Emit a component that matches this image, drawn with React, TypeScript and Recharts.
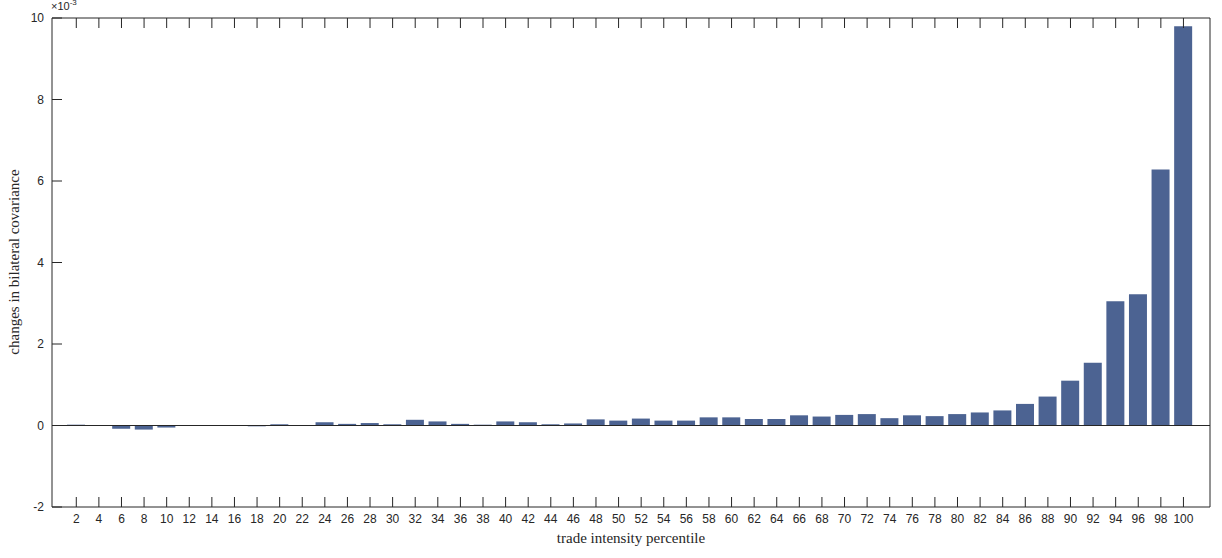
import React from 'react';
import { BarChart, Bar, XAxis, YAxis, ReferenceLine } from 'recharts';

const percentiles = Array.from({ length: 50 }, (_, i) => (i + 1) * 2);
const values = [0.02, 0.0, -0.08, -0.1, -0.05, 0, -0.005, 0, -0.02, 0.03, 0, 0.08, 0.04, 0.06, 0.03, 0.14, 0.1, 0.04, 0.02, 0.1, 0.08, 0.03, 0.05, 0.15, 0.12, 0.17, 0.12, 0.12, 0.2, 0.2, 0.16, 0.16, 0.25, 0.22, 0.26, 0.28, 0.18, 0.25, 0.23, 0.28, 0.32, 0.37, 0.53, 0.71, 1.1, 1.54, 3.05, 3.22, 6.28, 9.8];
const yTicks = [-2, 0, 2, 4, 6, 8, 10];
const data = percentiles.map((p, i) => ({ p, v: values[i] }));

const font = 'Helvetica, Arial, "Liberation Sans", sans-serif';

const BottomTick = (props: any) => {
  const { x, y, payload } = props;
  return (
    <g>
      <line x1={x} x2={x} y1={y} y2={y - 10} stroke="#262626" />
      <text x={x} y={y + 16} textAnchor="middle" fontSize={12} fontFamily={font} fill="#262626">{payload.value}</text>
    </g>
  );
};
const TopTick = (props: any) => {
  const { x, y } = props;
  return <line x1={x} x2={x} y1={y} y2={y + 10} stroke="#262626" />;
};
const LeftTick = (props: any) => {
  const { x, y, payload } = props;
  return (
    <g>
      <line x1={x} x2={x + 10} y1={y} y2={y} stroke="#262626" />
      <text x={x - 8} y={y + 4} textAnchor="end" fontSize={12} fontFamily={font} fill="#262626">{payload.value}</text>
    </g>
  );
};
const RightTick = (props: any) => {
  const { x, y } = props;
  return <line x1={x} x2={x - 10} y1={y} y2={y} stroke="#262626" />;
};

export default function App() {
  return (
    <div style={{ position: 'absolute', left: 0, top: 0, width: 1222, height: 558, background: '#fff' }}>
      <BarChart width={1222} height={558} data={data} margin={{ top: 17, right: 11, bottom: 0, left: 51 }}>
        <XAxis xAxisId="b" dataKey="p" type="number" domain={[-0.15, 102.35]} ticks={percentiles} interval={0}
          tick={<BottomTick />} tickLine={false} tickSize={0} tickMargin={0} stroke="#262626" height={51} orientation="bottom" allowDataOverflow />
        <XAxis xAxisId="t" dataKey="p" type="number" domain={[-0.15, 102.35]} ticks={percentiles} interval={0}
          tick={<TopTick />} tickLine={false} tickSize={0} tickMargin={0} stroke="#262626" height={1} orientation="top" allowDataOverflow />
        <YAxis yAxisId="l" domain={[-2, 10]} ticks={yTicks} tick={<LeftTick />} tickLine={false} tickSize={0} tickMargin={0} stroke="#262626" width={1} orientation="left" />
        <YAxis yAxisId="r" domain={[-2, 10]} ticks={yTicks} tick={<RightTick />} tickLine={false} tickSize={0} tickMargin={0} stroke="#262626" width={1} orientation="right" />
        <ReferenceLine xAxisId="b" yAxisId="l" y={0} stroke="#262626" />
        <Bar xAxisId="b" yAxisId="l" dataKey="v" fill="#4c6392" barSize={18} isAnimationActive={false} />
      </BarChart>
      <div style={{ position: 'absolute', left: 51, top: -2, fontSize: 11, fontFamily: font, color: '#262626' }}>
        ×10<sup style={{ fontSize: 8 }}>-3</sup>
      </div>
      <div style={{ position: 'absolute', left: 0, top: 530, width: 1262, textAlign: 'center', fontSize: 15, fontFamily: '"Liberation Serif", "Times New Roman", serif', color: '#262626' }}>
        trade intensity percentile
      </div>
      <div style={{ position: 'absolute', left: 14, top: 262, width: 0, height: 0 }}>
        <div style={{ position: 'absolute', transform: 'translate(-50%, -50%) rotate(-90deg)', whiteSpace: 'nowrap', fontSize: 15, fontFamily: '"Liberation Serif", "Times New Roman", serif', color: '#262626' }}>
          changes in bilateral covariance
        </div>
      </div>
    </div>
  );
}
